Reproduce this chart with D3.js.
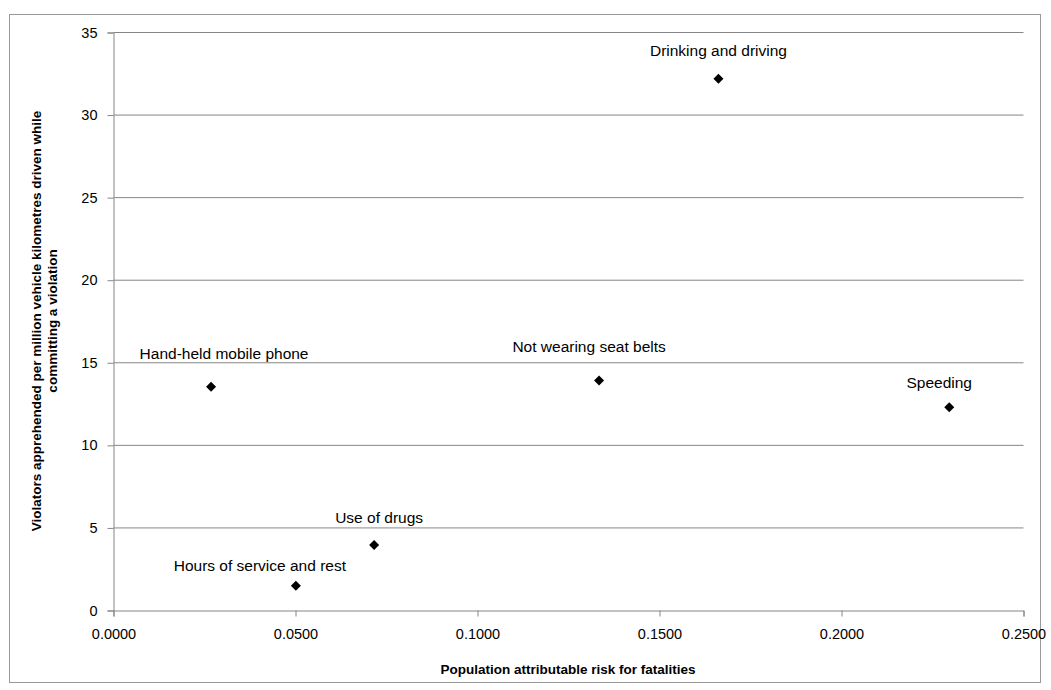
<!DOCTYPE html>
<html lang="en">

<head>
  <meta charset="UTF-8">
  <title>Violations vs attributable risk</title>
  <style>
    body { margin: 0; background: #fff; }
    text { font-family: 'Liberation Sans', Arial, sans-serif; }
  </style>
</head>

<body>
  <svg id="svg" width="1051" height="690"></svg>

  <script src="https://d3js.org/d3.v7.min.js"></script>
  <script>
    // data
    const violations = ['Hand-held mobile phone', 'Use of drugs', 'Hours of service and rest',
      'Drinking and driving', 'Not wearing seat belts', 'Speeding']
    const riskValues = [0.0268, 0.0716, 0.0501, 0.1662, 0.1334, 0.2296]
    const apprehendedValues = [13.55, 3.97, 1.50, 32.2, 13.92, 12.30]
    const xTicks = [0, 0.05, 0.1, 0.15, 0.2, 0.25]
    const yTicks = [0, 5, 10, 15, 20, 25, 30, 35]

    // where Excel placed each data label, relative to its point
    const labelShift = [[13, -33], [5, -27], [-36, -20], [0, -28], [-10, -34], [-10, -25]]

    const data = violations.map((name, i) => ({ name, x: riskValues[i], y: apprehendedValues[i] }))

    const svg = d3.select('#svg')
    const grey = '#868686'

    // outer chart border
    svg.append('rect')
      .attr('x', 9.5).attr('y', 14.5)
      .attr('width', 1031).attr('height', 668)
      .attr('fill', 'none').attr('stroke', '#999')

    const xScale = d3.scaleLinear()
      .domain([0, 0.25])
      .range([113.5, 1023.5])
    const yScale = d3.scaleLinear()
      .domain([0, 35])
      .range([610.5, 32.5])

    // gridlines
    svg.append('g')
      .selectAll('line')
      .data(yTicks.filter(d => d > 0))
      .enter()
      .append('line')
      .attr('x1', xScale(0)).attr('x2', xScale(0.25))
      .attr('y1', d => yScale(d)).attr('y2', d => yScale(d))
      .attr('stroke', grey)

    // axes
    const xAxis = svg.append('g')
      .attr('transform', `translate(0,${yScale(0)})`)
      .call(d3.axisBottom(xScale).tickValues(xTicks).tickFormat(d3.format('.4f')).tickSizeOuter(0).tickSize(6).tickPadding(12))
    const yAxis = svg.append('g')
      .attr('transform', `translate(${xScale(0)},0)`)
      .call(d3.axisLeft(yScale).tickValues(yTicks).tickSizeOuter(0).tickSize(6).tickPadding(10))

    ;[xAxis, yAxis].forEach(ax => {
      ax.select('.domain').attr('stroke', grey)
      ax.selectAll('.tick line').attr('stroke', grey)
      ax.selectAll('.tick text')
        .attr('fill', '#000')
        .style('font-size', '14.5px')
        .style('font-family', "'Liberation Sans', Arial, sans-serif")
    })

    // markers
    const diamond = d3.symbol().type(d3.symbolSquare).size(50)
    svg.append('g')
      .selectAll('path')
      .data(data)
      .enter()
      .append('path')
      .attr('d', diamond)
      .attr('transform', d => `translate(${xScale(d.x)},${yScale(d.y)}) rotate(45)`)
      .attr('fill', '#000')

    // data labels
    svg.append('g')
      .selectAll('text')
      .data(data)
      .enter()
      .append('text')
      .text(d => d.name)
      .attr('x', (d, i) => xScale(d.x) + labelShift[i][0])
      .attr('y', (d, i) => yScale(d.y) + labelShift[i][1])
      .attr('text-anchor', 'middle')
      .attr('dominant-baseline', 'central')
      .style('font-size', '15.5px')

    // axis titles
    svg.append('text')
      .text('Population attributable risk for fatalities')
      .attr('x', 568).attr('y', 669)
      .attr('text-anchor', 'middle')
      .attr('dominant-baseline', 'central')
      .style('font-size', '13.5px')
      .style('font-weight', 'bold')

    const yTitle = svg.append('text')
      .attr('transform', 'translate(44,321) rotate(-90)')
      .attr('text-anchor', 'middle')
      .style('font-size', '13.5px')
      .style('font-weight', 'bold')
    yTitle.append('tspan').attr('x', 0).attr('y', -3).text('Violators apprehended per million vehicle kilometres driven while')
    yTitle.append('tspan').attr('x', 0).attr('y', 13).text('committing a violation')
  </script>
</body>

</html>
